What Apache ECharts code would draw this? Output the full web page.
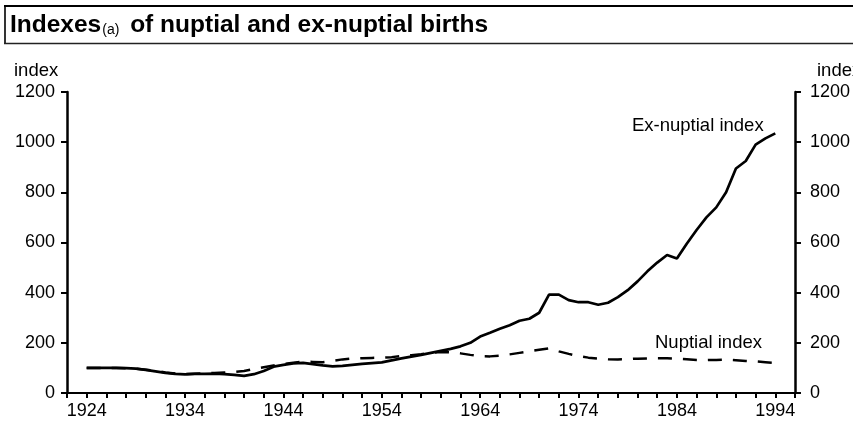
<!DOCTYPE html>
<html>
<head>
<meta charset="utf-8">
<script src="https://cdn.jsdelivr.net/npm/echarts@6/dist/echarts.min.js"></script>
<style>
html,body{margin:0;padding:0;background:#fff;}
#c{width:853px;height:430px;}
</style>
</head>
<body>
<div id="c"></div>
<script>
var years = [1924,1925,1926,1927,1928,1929,1930,1931,1932,1933,1934,1935,1936,1937,1938,1939,1940,1941,1942,1943,1944,1945,1946,1947,1948,1949,1950,1951,1952,1953,1954,1955,1956,1957,1958,1959,1960,1961,1962,1963,1964,1965,1966,1967,1968,1969,1970,1971,1972,1973,1974,1975,1976,1977,1978,1979,1980,1981,1982,1983,1984,1985,1986,1987,1988,1989,1990,1991,1992,1993,1994];
var exNuptial = [100,100,100,100,99,97,92,86,80,76,74,76,76,77,75,72,68,75,88,105,112,118,120,115,110,106,108,112,116,119,122,130,138,145,152,160,168,176,186,200,225,240,256,270,288,296,320,392,392,370,362,362,352,360,382,410,445,485,520,550,536,595,650,700,740,800,895,925,990,1015,1035];
var nuptial = [100,100,100,100,99,97,93,88,82,78,76,77,78,80,82,84,88,96,103,110,116,121,125,124,123,128,134,138,139,140,141,143,147,151,155,160,163,162,158,152,147,146,149,154,160,166,172,178,166,156,147,141,137,135,134,135,137,138,139,139,137,135,132,131,132,133,131,128,126,123,120];
var yTicks = [0,200,400,600,800,1000,1200];
var xLabelYears = [1924,1934,1944,1954,1964,1974,1984,1994];

var FONT = 'Liberation Sans, Arial, Helvetica, sans-serif';
function pairs(v){ return years.map(function(y,i){ return [y, v[i]]; }); }

var chart = echarts.init(document.getElementById('c'), null, {renderer:'canvas'});
function yAxisDef(pos, margin){
  return {
    type:'value', position:pos, min:yTicks[0], max:yTicks[yTicks.length-1], interval:200,
    axisLine:{show:true, lineStyle:{color:'#000', width:2.5}},
    axisTick:{show:true, inside:false, length:6, lineStyle:{color:'#000', width:2}},
    splitLine:{show:false},
    axisLabel:{color:'#000', fontFamily:FONT, fontSize:18, margin:margin,
      formatter:function(v){ return String(v); }}
  };
}
chart.setOption({
  animation:false,
  backgroundColor:'#fff',
  grid:{left:67, right:50, top:92, bottom:37, containLabel:false},
  xAxis:{
    type:'value', min:1922, max:1996, interval:2,
    axisLine:{show:true, onZero:false, lineStyle:{color:'#000', width:2}},
    axisTick:{show:true, inside:false, length:5, lineStyle:{color:'#000', width:2}},
    splitLine:{show:false},
    axisLabel:{color:'#000', fontFamily:FONT, fontSize:18, margin:9,
      showMinLabel:true, showMaxLabel:true,
      formatter:function(v){ return xLabelYears.indexOf(v) >= 0 ? String(v) : ''; }}
  },
  yAxis:[ yAxisDef('left', 12), yAxisDef('right', 15) ],
  series:[
    {name:'Ex-nuptial index', type:'line', data:pairs(exNuptial), showSymbol:false, symbol:'none',
     lineStyle:{color:'#000', width:2.7}, z:3},
    {name:'Nuptial index', type:'line', data:pairs(nuptial), showSymbol:false, symbol:'none',
     lineStyle:{color:'#000', width:2.5, type:[14,11]}, z:2}
  ],
  graphic:[
    {type:'line', shape:{x1:4, y1:6, x2:853, y2:6}, style:{stroke:'#000', lineWidth:2.2}},
    {type:'line', shape:{x1:5, y1:6, x2:5, y2:44}, style:{stroke:'#000', lineWidth:1.6}},
    {type:'line', shape:{x1:4, y1:43.5, x2:853, y2:43.5}, style:{stroke:'#222', lineWidth:1.3}},
    {type:'text', left:10, top:13, style:{
      text:'{t|Indexes}{s|(a)}{t| of nuptial and ex-nuptial births}',
      rich:{
        t:{fontFamily:FONT, fontWeight:'bold', fontSize:24.5, fill:'#000', verticalAlign:'bottom'},
        s:{fontFamily:FONT, fontWeight:'normal', fontSize:14, fill:'#000', verticalAlign:'bottom', padding:[0,4,1,1]}
      }}},
    {type:'text', left:14, top:61, style:{text:'index', fontFamily:FONT, fontSize:18.5, fill:'#000'}},
    {type:'text', left:817, top:61, style:{text:'index', fontFamily:FONT, fontSize:18.5, fill:'#000'}},
    {type:'text', left:632, top:116, style:{text:'Ex-nuptial index', fontFamily:FONT, fontSize:18.5, fill:'#000'}},
    {type:'text', left:655, top:333, style:{text:'Nuptial index', fontFamily:FONT, fontSize:18.5, fill:'#000'}}
  ]
});
</script>
</body>
</html>
